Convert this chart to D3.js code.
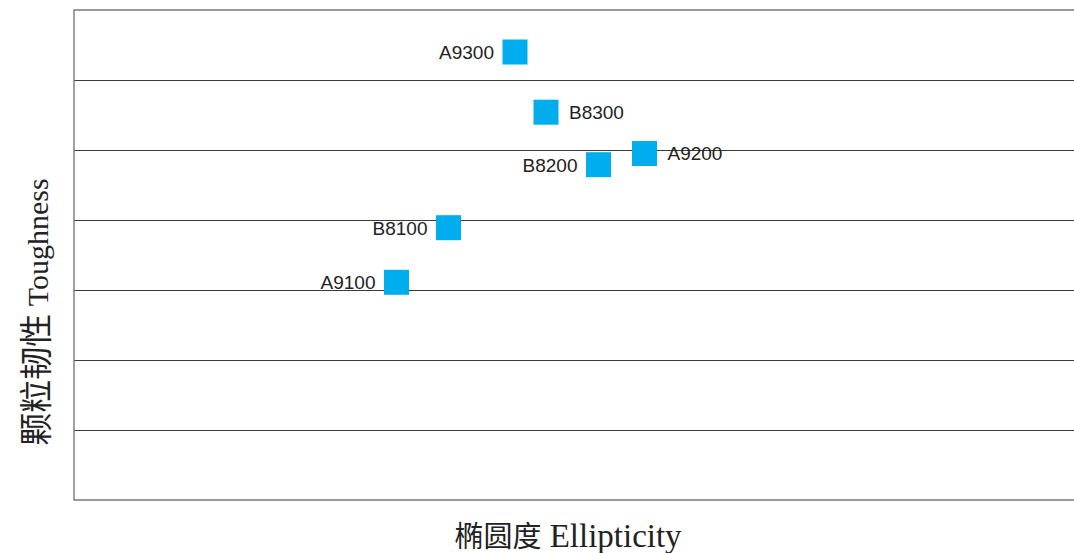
<!DOCTYPE html>
<html>
<head>
<meta charset="utf-8">
<script src="https://cdn.jsdelivr.net/npm/d3@7"></script>
<style>
  body { margin: 0; background: #fff; }
  .pt-label { font-family: "Liberation Sans", Arial, sans-serif; font-size: 19px; fill: #222; }
</style>
</head>
<body>
<svg id="chart"></svg>
<script>
// data (no tick labels, so units are arbitrary)
const grades = ["A9100", "B8100", "A9300", "B8300", "B8200", "A9200"];
const ellipticity = [32.25, 37.45, 44.1, 47.2, 52.45, 57.05];
const toughness = [3.11, 3.89, 6.40, 5.54, 4.79, 4.95];
const labelSide = ["left", "left", "left", "right", "left", "right"];
const yTicks = [0, 1, 2, 3, 4, 5, 6, 7];

const width = 1074;
const height = 553;
const margin = { top: 10, right: 0, bottom: 53, left: 74 };
const innerWidth = width - margin.left - margin.right;
const innerHeight = height - margin.top - margin.bottom;

const data = grades.map((g, i) => ({ name: g, x: ellipticity[i], y: toughness[i], side: labelSide[i] }));

const svg = d3.select("#chart")
    .attr("width", width)
    .attr("height", height);

const g = svg.append("g")
    .attr("transform", "translate(" + margin.left + "," + margin.top + ")");

const xScale = d3.scaleLinear().domain([0, 100]).range([0, innerWidth]);
const yScale = d3.scaleLinear().domain([0, 7]).range([innerHeight, 0]);

// gridlines
const grid = g.append("g")
    .call(d3.axisLeft(yScale).tickValues(yTicks.slice(1, -1)).tickSize(-innerWidth).tickFormat(""));
grid.select(".domain").remove();
grid.selectAll(".tick line").attr("stroke", "#3a3a3a").attr("stroke-width", 1.2);

// frame: top, left, bottom
const frame = d3.path();
frame.moveTo(innerWidth, yScale(7));
frame.lineTo(0, yScale(7));
frame.lineTo(0, yScale(0));
frame.lineTo(innerWidth, yScale(0));
g.append("path")
    .attr("d", frame.toString())
    .attr("fill", "none")
    .attr("stroke", "#7a7a7a")
    .attr("stroke-width", 1.4);

// markers
const size = 25;
g.selectAll(".pt")
    .data(data)
    .enter()
    .append("rect")
    .attr("class", "pt")
    .attr("x", d => xScale(d.x) - size / 2)
    .attr("y", d => yScale(d.y) - size / 2)
    .attr("width", size)
    .attr("height", size)
    .attr("fill", "#00aeef");

g.selectAll(".pt-label")
    .data(data)
    .enter()
    .append("text")
    .attr("class", "pt-label")
    .attr("x", d => xScale(d.x) + (d.side === "left" ? -21 : 23))
    .attr("y", d => yScale(d.y))
    .attr("dy", "0.36em")
    .style("text-anchor", d => d.side === "left" ? "end" : "start")
    .text(d => d.name);

// axis titles
const xTitle = svg.append("text")
    .attr("x", 568)
    .attr("y", 547)
    .style("text-anchor", "middle")
    .attr("fill", "#222");
xTitle.append("tspan")
    .style("font-family", "'Noto Sans CJK SC', sans-serif")
    .style("font-size", "29px")
    .text("椭圆度");
xTitle.append("tspan")
    .style("font-family", "'Liberation Serif', 'Times New Roman', serif")
    .style("font-size", "33px")
    .text(" Ellipticity");

const yTitle = svg.append("text")
    .attr("transform", "translate(48,312) rotate(-90)")
    .style("text-anchor", "middle")
    .attr("fill", "#222");
yTitle.append("tspan")
    .style("font-family", "'Noto Sans CJK SC', sans-serif")
    .style("font-size", "33px")
    .text("颗粒韧性");
yTitle.append("tspan")
    .style("font-family", "'Liberation Serif', 'Times New Roman', serif")
    .style("font-size", "30px")
    .text(" Toughness");
</script>
</body>
</html>
